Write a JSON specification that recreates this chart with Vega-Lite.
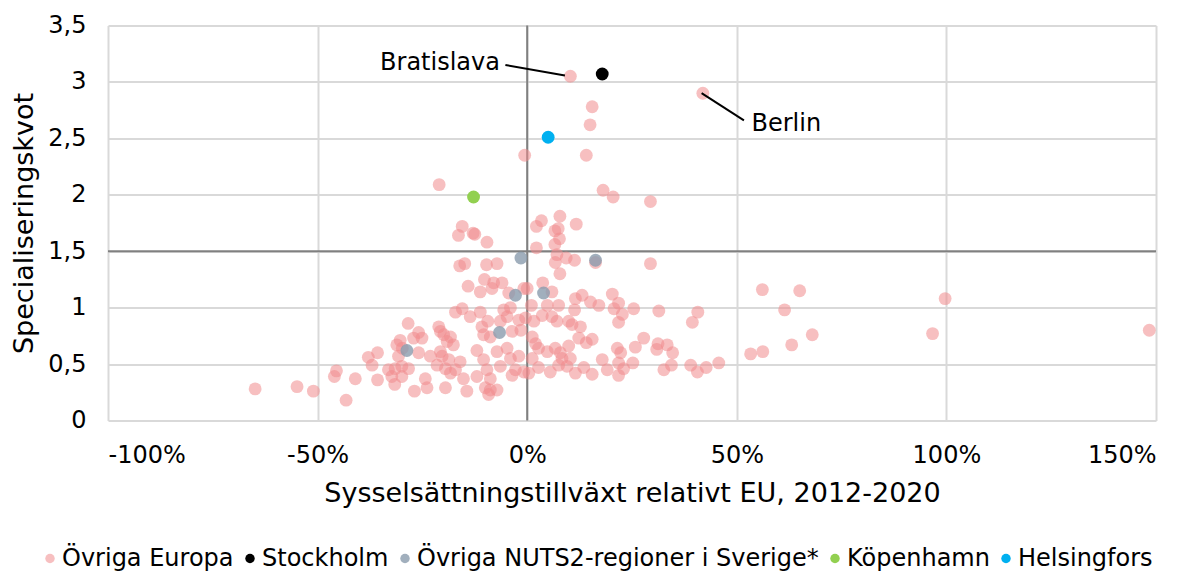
{
  "$schema": "https://vega.github.io/schema/vega-lite/v6.json",
  "width": 1048,
  "height": 395,
  "autosize": {"type": "none"},
  "padding": {"left": 108, "top": 25.5, "right": 38, "bottom": 151.5},
  "background": "white",
  "config": {
    "font": "DejaVu Sans",
    "view": {"stroke": null},
    "axis": {
      "labelFont": "DejaVu Sans",
      "titleFont": "DejaVu Sans",
      "labelColor": "#000000",
      "titleColor": "#000000",
      "titleFontWeight": "normal",
      "gridColor": "#D9D9D9",
      "gridWidth": 2,
      "domain": false,
      "ticks": false
    }
  },
  "datasets": {
    "pts": [
      {"serie":"Övriga Europa","x":-64.9,"y":0.28},{"serie":"Övriga Europa","x":-54.9,"y":0.30},{"serie":"Övriga Europa","x":-51.0,"y":0.26},{"serie":"Övriga Europa","x":-43.2,"y":0.18},{"serie":"Övriga Europa","x":-46.0,"y":0.39},{"serie":"Övriga Europa","x":-45.5,"y":0.44},{"serie":"Övriga Europa","x":-41.0,"y":0.37},{"serie":"Övriga Europa","x":-35.7,"y":0.36},{"serie":"Övriga Europa","x":-37.9,"y":0.56},{"serie":"Övriga Europa","x":-35.7,"y":0.60},{"serie":"Övriga Europa","x":-37.0,"y":0.49},{"serie":"Övriga Europa","x":-28.4,"y":0.86},{"serie":"Övriga Europa","x":-30.3,"y":0.71},{"serie":"Övriga Europa","x":-31.1,"y":0.67},{"serie":"Övriga Europa","x":-30.7,"y":0.57},{"serie":"Övriga Europa","x":-33.1,"y":0.45},{"serie":"Övriga Europa","x":-31.5,"y":0.46},{"serie":"Övriga Europa","x":-32.3,"y":0.39},{"serie":"Övriga Europa","x":-31.6,"y":0.32},{"serie":"Övriga Europa","x":-29.8,"y":0.64},
      {"serie":"Övriga Europa","x":-21.0,"y":2.09},{"serie":"Övriga Europa","x":-15.5,"y":1.72},{"serie":"Övriga Europa","x":-16.4,"y":1.64},{"serie":"Övriga Europa","x":-12.9,"y":1.66},{"serie":"Övriga Europa","x":-12.5,"y":1.65},{"serie":"Övriga Europa","x":-9.6,"y":1.58},{"serie":"Övriga Europa","x":-16.1,"y":1.37},{"serie":"Övriga Europa","x":-14.9,"y":1.39},{"serie":"Övriga Europa","x":-9.7,"y":1.38},{"serie":"Övriga Europa","x":-7.2,"y":1.39},{"serie":"Övriga Europa","x":-10.2,"y":1.25},{"serie":"Övriga Europa","x":-8.0,"y":1.22},{"serie":"Övriga Europa","x":-6.0,"y":1.22},{"serie":"Övriga Europa","x":-14.1,"y":1.19},{"serie":"Övriga Europa","x":-11.2,"y":1.14},{"serie":"Övriga Europa","x":-8.4,"y":1.17},{"serie":"Övriga Europa","x":-4.4,"y":1.13},{"serie":"Övriga Europa","x":-0.8,"y":1.17},
      {"serie":"Övriga Europa","x":-15.5,"y":0.99},{"serie":"Övriga Europa","x":-17.1,"y":0.96},{"serie":"Övriga Europa","x":-13.6,"y":0.92},{"serie":"Övriga Europa","x":-11.2,"y":0.96},{"serie":"Övriga Europa","x":-9.4,"y":0.88},{"serie":"Övriga Europa","x":-10.8,"y":0.83},{"serie":"Övriga Europa","x":-6.4,"y":0.88},{"serie":"Övriga Europa","x":-5.6,"y":0.98},{"serie":"Övriga Europa","x":-4.0,"y":1.00},{"serie":"Övriga Europa","x":-4.8,"y":0.92},{"serie":"Övriga Europa","x":-2.0,"y":0.89},{"serie":"Övriga Europa","x":-0.4,"y":0.91},{"serie":"Övriga Europa","x":-3.6,"y":0.79},{"serie":"Övriga Europa","x":-1.5,"y":0.80},{"serie":"Övriga Europa","x":-10.4,"y":0.76},{"serie":"Övriga Europa","x":-8.8,"y":0.74},
      {"serie":"Övriga Europa","x":-25.9,"y":0.78},{"serie":"Övriga Europa","x":-27.1,"y":0.73},{"serie":"Övriga Europa","x":-25.1,"y":0.73},{"serie":"Övriga Europa","x":-21.1,"y":0.83},{"serie":"Övriga Europa","x":-20.7,"y":0.79},{"serie":"Övriga Europa","x":-19.9,"y":0.76},{"serie":"Övriga Europa","x":-18.3,"y":0.74},{"serie":"Övriga Europa","x":-19.1,"y":0.70},{"serie":"Övriga Europa","x":-17.6,"y":0.67},{"serie":"Övriga Europa","x":-25.9,"y":0.60},{"serie":"Övriga Europa","x":-23.1,"y":0.57},{"serie":"Övriga Europa","x":-20.7,"y":0.61},{"serie":"Övriga Europa","x":-20.3,"y":0.57},{"serie":"Övriga Europa","x":-18.7,"y":0.54},{"serie":"Övriga Europa","x":-29.9,"y":0.48},{"serie":"Övriga Europa","x":-28.3,"y":0.46},{"serie":"Övriga Europa","x":-21.5,"y":0.49},{"serie":"Övriga Europa","x":-19.5,"y":0.46},{"serie":"Övriga Europa","x":-18.3,"y":0.42},{"serie":"Övriga Europa","x":-16.0,"y":0.52},{"serie":"Övriga Europa","x":-15.2,"y":0.37},{"serie":"Övriga Europa","x":-17.1,"y":0.45},
      {"serie":"Övriga Europa","x":-12.0,"y":0.62},{"serie":"Övriga Europa","x":-10.4,"y":0.54},{"serie":"Övriga Europa","x":-9.6,"y":0.45},{"serie":"Övriga Europa","x":-7.2,"y":0.61},{"serie":"Övriga Europa","x":-4.8,"y":0.64},{"serie":"Övriga Europa","x":-4.0,"y":0.55},{"serie":"Övriga Europa","x":-2.0,"y":0.57},{"serie":"Övriga Europa","x":-6.4,"y":0.48},{"serie":"Övriga Europa","x":-2.8,"y":0.45},{"serie":"Övriga Europa","x":-3.6,"y":0.40},{"serie":"Övriga Europa","x":-0.8,"y":0.43},{"serie":"Övriga Europa","x":-12.0,"y":0.39},{"serie":"Övriga Europa","x":-8.8,"y":0.37},{"serie":"Övriga Europa","x":-10.0,"y":0.29},{"serie":"Övriga Europa","x":-8.8,"y":0.27},{"serie":"Övriga Europa","x":-7.2,"y":0.27},{"serie":"Övriga Europa","x":-9.2,"y":0.23},{"serie":"Övriga Europa","x":-14.4,"y":0.26},{"serie":"Övriga Europa","x":-19.5,"y":0.29},{"serie":"Övriga Europa","x":-24.3,"y":0.37},{"serie":"Övriga Europa","x":-23.9,"y":0.29},{"serie":"Övriga Europa","x":-26.9,"y":0.26},{"serie":"Övriga Europa","x":-29.9,"y":0.39},
      {"serie":"Övriga Europa","x":18.1,"y":2.04},{"serie":"Övriga Europa","x":20.5,"y":1.98},{"serie":"Övriga Europa","x":29.4,"y":1.94},{"serie":"Övriga Europa","x":7.8,"y":1.81},{"serie":"Övriga Europa","x":3.4,"y":1.77},{"serie":"Övriga Europa","x":2.2,"y":1.72},{"serie":"Övriga Europa","x":11.7,"y":1.74},{"serie":"Övriga Europa","x":7.4,"y":1.70},{"serie":"Övriga Europa","x":6.6,"y":1.68},{"serie":"Övriga Europa","x":7.7,"y":1.61},{"serie":"Övriga Europa","x":6.6,"y":1.56},{"serie":"Övriga Europa","x":2.2,"y":1.53},{"serie":"Övriga Europa","x":7.1,"y":1.47},{"serie":"Övriga Europa","x":6.7,"y":1.40},{"serie":"Övriga Europa","x":9.3,"y":1.44},{"serie":"Övriga Europa","x":11.3,"y":1.42},{"serie":"Övriga Europa","x":29.4,"y":1.39},{"serie":"Övriga Europa","x":7.8,"y":1.30},{"serie":"Övriga Europa","x":3.7,"y":1.22},{"serie":"Övriga Europa","x":0.0,"y":1.17},{"serie":"Övriga Europa","x":5.9,"y":1.14},{"serie":"Övriga Europa","x":13.1,"y":1.11},{"serie":"Övriga Europa","x":20.3,"y":1.12},{"serie":"Övriga Europa","x":16.3,"y":1.40},
      {"serie":"Övriga Europa","x":11.5,"y":1.08},{"serie":"Övriga Europa","x":15.1,"y":1.05},{"serie":"Övriga Europa","x":17.1,"y":1.02},{"serie":"Övriga Europa","x":21.8,"y":1.04},{"serie":"Övriga Europa","x":25.4,"y":0.99},{"serie":"Övriga Europa","x":20.7,"y":0.99},{"serie":"Övriga Europa","x":22.7,"y":0.94},{"serie":"Övriga Europa","x":21.8,"y":0.87},{"serie":"Övriga Europa","x":1.0,"y":1.02},{"serie":"Övriga Europa","x":4.8,"y":1.02},{"serie":"Övriga Europa","x":7.5,"y":1.02},{"serie":"Övriga Europa","x":3.6,"y":0.93},{"serie":"Övriga Europa","x":5.9,"y":0.92},{"serie":"Övriga Europa","x":7.1,"y":0.88},{"serie":"Övriga Europa","x":11.3,"y":0.98},{"serie":"Övriga Europa","x":9.9,"y":0.88},{"serie":"Övriga Europa","x":10.7,"y":0.85},{"serie":"Övriga Europa","x":12.7,"y":0.83},{"serie":"Övriga Europa","x":1.6,"y":0.88},{"serie":"Övriga Europa","x":12.3,"y":0.73},{"serie":"Övriga Europa","x":15.5,"y":0.72},{"serie":"Övriga Europa","x":14.1,"y":0.69},{"serie":"Övriga Europa","x":9.9,"y":0.66},{"serie":"Övriga Europa","x":1.2,"y":0.74},{"serie":"Övriga Europa","x":2.0,"y":0.68},{"serie":"Övriga Europa","x":2.7,"y":0.64},{"serie":"Övriga Europa","x":4.8,"y":0.61},{"serie":"Övriga Europa","x":6.7,"y":0.64},{"serie":"Övriga Europa","x":7.9,"y":0.60},{"serie":"Övriga Europa","x":8.3,"y":0.55},{"serie":"Övriga Europa","x":10.3,"y":0.55},{"serie":"Övriga Europa","x":1.2,"y":0.55},{"serie":"Övriga Europa","x":7.5,"y":0.49},{"serie":"Övriga Europa","x":2.7,"y":0.47},{"serie":"Övriga Europa","x":0.4,"y":0.42},{"serie":"Övriga Europa","x":5.5,"y":0.43},{"serie":"Övriga Europa","x":9.5,"y":0.48},{"serie":"Övriga Europa","x":11.5,"y":0.42},{"serie":"Övriga Europa","x":13.5,"y":0.47},{"serie":"Övriga Europa","x":15.5,"y":0.41},{"serie":"Övriga Europa","x":17.9,"y":0.54},{"serie":"Övriga Europa","x":19.1,"y":0.45},{"serie":"Övriga Europa","x":21.5,"y":0.64},{"serie":"Övriga Europa","x":22.3,"y":0.60},{"serie":"Övriga Europa","x":21.8,"y":0.51},{"serie":"Övriga Europa","x":21.8,"y":0.40},{"serie":"Övriga Europa","x":25.8,"y":0.65},{"serie":"Övriga Europa","x":27.8,"y":0.73},{"serie":"Övriga Europa","x":25.2,"y":0.51},{"serie":"Övriga Europa","x":23.0,"y":0.46},
      {"serie":"Övriga Europa","x":56.1,"y":1.16},{"serie":"Övriga Europa","x":61.4,"y":0.98},{"serie":"Övriga Europa","x":31.4,"y":0.97},{"serie":"Övriga Europa","x":40.7,"y":0.96},{"serie":"Övriga Europa","x":39.4,"y":0.87},{"serie":"Övriga Europa","x":31.2,"y":0.68},{"serie":"Övriga Europa","x":33.4,"y":0.67},{"serie":"Övriga Europa","x":30.9,"y":0.63},{"serie":"Övriga Europa","x":34.7,"y":0.60},{"serie":"Övriga Europa","x":34.4,"y":0.49},{"serie":"Övriga Europa","x":32.6,"y":0.45},{"serie":"Övriga Europa","x":39.0,"y":0.49},{"serie":"Övriga Europa","x":40.6,"y":0.43},{"serie":"Övriga Europa","x":42.7,"y":0.47},{"serie":"Övriga Europa","x":45.7,"y":0.51},{"serie":"Övriga Europa","x":53.3,"y":0.59},{"serie":"Övriga Europa","x":56.2,"y":0.61},{"serie":"Övriga Europa","x":63.1,"y":0.67},
      {"serie":"Övriga Europa","x":10.3,"y":3.05},{"serie":"Övriga Europa","x":41.9,"y":2.90},{"serie":"Övriga Europa","x":15.5,"y":2.78},{"serie":"Övriga Europa","x":15.0,"y":2.62},{"serie":"Övriga Europa","x":-0.6,"y":2.35},{"serie":"Övriga Europa","x":14.1,"y":2.35},
      {"serie":"Övriga Europa","x":65.0,"y":1.15},{"serie":"Övriga Europa","x":68.0,"y":0.76},{"serie":"Övriga Europa","x":99.7,"y":1.08},{"serie":"Övriga Europa","x":96.7,"y":0.77},{"serie":"Övriga Europa","x":148.4,"y":0.80},
      {"serie":"Övriga NUTS2-regioner i Sverige*","x":-28.7,"y":0.62},{"serie":"Övriga NUTS2-regioner i Sverige*","x":-6.6,"y":0.78},{"serie":"Övriga NUTS2-regioner i Sverige*","x":-2.8,"y":1.11},{"serie":"Övriga NUTS2-regioner i Sverige*","x":-1.5,"y":1.44},{"serie":"Övriga NUTS2-regioner i Sverige*","x":3.9,"y":1.13},{"serie":"Övriga NUTS2-regioner i Sverige*","x":16.3,"y":1.42},
      {"serie":"Stockholm","x":17.9,"y":3.07},
      {"serie":"Köpenhamn","x":-12.8,"y":1.98},
      {"serie":"Helsingfors","x":5.0,"y":2.51}
    ]
  },
  "encoding": {
    "x": {
      "field": "x", "type": "quantitative",
      "scale": {"domain": [-100, 150], "nice": false, "zero": false},
      "axis": {
        "values": [-100, -50, 0, 50, 100, 150],
        "labelExpr": "toString(datum.value) + '%'",
        "labelFontSize": 24, "labelPadding": 23,
        "title": "Sysselsättningstillväxt relativt EU, 2012-2020",
        "titleFontSize": 27, "titlePadding": 13
      }
    },
    "y": {
      "field": "y", "type": "quantitative",
      "scale": {"domain": [0, 3.5], "nice": false, "zero": false},
      "axis": {
        "values": [0, 0.5, 1, 1.5, 2, 2.5, 3, 3.5],
        "labelExpr": "replace(toString(datum.value), '.', ',')",
        "labelFontSize": 24, "labelPadding": 22,
        "title": "Specialiseringskvot",
        "titleFontSize": 27, "titlePadding": 9
      }
    }
  },
  "layer": [
    {
      "data": {"values": [{"x": 0, "y": 0, "y2": 3.5}]},
      "mark": {"type": "rule", "color": "#808080", "strokeWidth": 2},
      "encoding": {"y2": {"field": "y2"}}
    },
    {
      "data": {"values": [{"x": -100, "x2": 150, "y": 1.5}]},
      "mark": {"type": "rule", "color": "#808080", "strokeWidth": 2},
      "encoding": {"x2": {"field": "x2"}}
    },
    {
      "data": {"name": "pts"},
      "mark": {"type": "circle", "size": 165, "strokeWidth": 0},
      "encoding": {
        "color": {
          "field": "serie", "type": "nominal",
          "scale": {
            "domain": ["Övriga Europa", "Stockholm", "Övriga NUTS2-regioner i Sverige*", "Köpenhamn", "Helsingfors"],
            "range": ["#F08A8C", "#000000", "#8A9BAD", "#92D050", "#00B0F0"]
          },
          "legend": {
            "title": null, "orient": "none", "direction": "horizontal", "columns": 5,
            "legendX": -70, "legendY": 521,
            "labelFont": "DejaVu Sans", "labelFontSize": 24, "labelColor": "#000000", "labelLimit": 0,
            "symbolType": "circle", "symbolSize": 90, "symbolStrokeWidth": 0,
            "labelOffset": 0, "columnPadding": 4
          }
        },
        "opacity": {
          "field": "serie", "type": "nominal",
          "scale": {
            "type": "ordinal",
            "domain": ["Övriga Europa", "Stockholm", "Övriga NUTS2-regioner i Sverige*", "Köpenhamn", "Helsingfors"],
            "range": [0.55, 1, 0.8, 1, 1]
          }
        }
      }
    },
    {
      "data": {"values": [
        {"x": -5.2, "y": 3.15, "x2": 9.0, "y2": 3.057},
        {"x": 41.6, "y": 2.90, "x2": 51.7, "y2": 2.66}
      ]},
      "mark": {"type": "rule", "color": "#000000", "strokeWidth": 2},
      "encoding": {"x2": {"field": "x2"}, "y2": {"field": "y2"}}
    },
    {
      "data": {"values": [{"x": -6.5, "y": 3.17, "label": "Bratislava"}]},
      "mark": {"type": "text", "align": "right", "baseline": "middle", "fontSize": 24, "font": "DejaVu Sans", "color": "#000000"},
      "encoding": {"text": {"field": "label"}}
    },
    {
      "data": {"values": [{"x": 53.5, "y": 2.63, "label": "Berlin"}]},
      "mark": {"type": "text", "align": "left", "baseline": "middle", "fontSize": 24, "font": "DejaVu Sans", "color": "#000000"},
      "encoding": {"text": {"field": "label"}}
    }
  ]
}
